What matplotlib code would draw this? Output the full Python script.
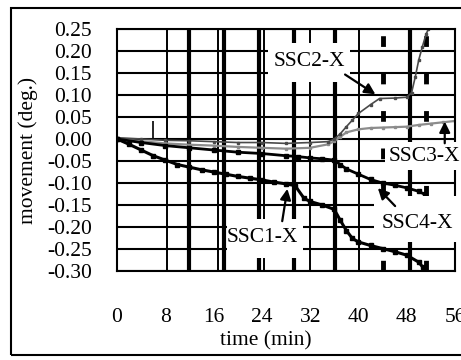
import numpy as np
import matplotlib.pyplot as plt
from matplotlib.patches import Rectangle

plt.rcParams['font.family'] = ['Liberation Serif', 'DejaVu Serif']

# curves (time in min, movement in deg.)
t_ssc1 = [0, 2, 4, 6, 8, 10, 12, 14, 16, 18, 20, 22, 24, 26, 28, 29.5, 31, 32, 34, 36, 37, 38, 39, 40, 42, 44, 46, 48, 50, 50.7, 51]
y_ssc1 = [0.0, -0.012, -0.025, -0.038, -0.048, -0.058, -0.064, -0.070, -0.075, -0.080, -0.085, -0.089, -0.093, -0.098, -0.102, -0.106, -0.135, -0.142, -0.150, -0.160, -0.185, -0.208, -0.226, -0.234, -0.242, -0.249, -0.256, -0.264, -0.280, -0.292, -0.298]

t_ssc4 = [0, 4, 8, 12, 16, 20, 24, 28, 30, 32, 34, 36, 37, 38, 40, 42, 44, 46, 48, 50, 51]
y_ssc4 = [0.0, -0.008, -0.015, -0.020, -0.025, -0.030, -0.033, -0.038, -0.040, -0.043, -0.045, -0.048, -0.058, -0.068, -0.080, -0.092, -0.100, -0.105, -0.111, -0.119, -0.126]

t_ssc2 = [0, 4, 8, 12, 16, 20, 24, 28, 32, 35, 36, 37, 38, 39, 40, 42, 43.5, 46, 48, 48.8, 49.4, 50, 50.6, 51.2, 51.6]
y_ssc2 = [0.003, 0.0, -0.003, -0.004, -0.006, -0.008, -0.008, -0.010, -0.008, -0.006, 0.0, 0.012, 0.028, 0.043, 0.058, 0.078, 0.092, 0.093, 0.095, 0.105, 0.140, 0.180, 0.210, 0.238, 0.250]

t_ssc3 = [0, 4, 8, 12, 16, 20, 24, 28, 32, 35, 36, 37, 38, 40, 42, 44, 46, 48, 50, 52, 54, 56]
y_ssc3 = [0.0, -0.005, -0.010, -0.013, -0.015, -0.018, -0.020, -0.022, -0.020, -0.012, -0.005, 0.005, 0.015, 0.022, 0.025, 0.026, 0.027, 0.028, 0.032, 0.035, 0.038, 0.041]

# vertical marker lines (min)
thin_lines = [8.3, 16.7, 24.4, 32.0, 40.1]
thick_lines = [11.9, 17.7, 23.5, 29.3, 36.1, 48.5]
dashed_lines = [44.0, 51.2]

x_ticks = [0, 8, 16, 24, 32, 40, 48, 56]
y_ticks = [0.25, 0.20, 0.15, 0.10, 0.05, 0.00, -0.05, -0.10, -0.15, -0.20, -0.25, -0.30]

fig = plt.figure(figsize=(4.61, 3.6), dpi=100)
ax = fig.add_axes([117/461, 1-271/360, 338/461, 242/360])
ax.set_xlim(0, 56)
ax.set_ylim(-0.30, 0.25)

# horizontal grid
for yv in y_ticks:
    ax.axhline(yv, color='k', lw=1.5, zorder=1)
for xv in thin_lines:
    ax.axvline(xv, color='k', lw=1.4, zorder=1)
for xv in thick_lines:
    ax.axvline(xv, color='k', lw=3.0, zorder=1)
for xv in dashed_lines:
    ax.axvline(xv, color='k', lw=3.5, linestyle=(0, (2.2, 5.5)), zorder=1)
ax.vlines(5.9, 0.0, 0.04, color='k', lw=1.2, zorder=2)

ax.plot(t_ssc3, y_ssc3, color='#8c8c8c', lw=1.6, marker='s', ms=1.8, zorder=3)
ax.plot(t_ssc2, y_ssc2, color='#4a4a4a', lw=1.2, marker='s', ms=1.5, zorder=3)
ax.plot(t_ssc4, y_ssc4, color='k', lw=2.0, marker='s', ms=2.2, zorder=3)
ax.plot(t_ssc1, y_ssc1, color='k', lw=2.2, marker='s', ms=2.2, zorder=3)

# label boxes (white, hide the lines behind)
boxes = {
    'SSC2-X': ((25.0, 0.1295), 13.6, 0.0885, (31.8, 0.175)),
    'SSC3-X': ((44.4, -0.070), 13.0, 0.063, (51.0, -0.039)),
    'SSC4-X': ((42.6, -0.234), 14.5, 0.104, (49.7, -0.193)),
    'SSC1-X': ((18.3, -0.270), 12.5, 0.088, (24.0, -0.223)),
}
for name, (xy, w, h, txy) in boxes.items():
    ax.add_patch(Rectangle(xy, w, h, facecolor='white', edgecolor='none', zorder=5, clip_on=False))
    ax.text(txy[0], txy[1], name, fontsize=15.5, ha='center', va='center', zorder=6, clip_on=False)

arrows = [((37.4, 0.150), (43.2, 0.098)),
          ((54.3, -0.016), (54.3, 0.046)),
          ((46.4, -0.157), (42.9, -0.107)),
          ((27.3, -0.193), (28.3, -0.107))]
for start, end in arrows:
    ax.annotate('', xy=end, xytext=start, zorder=7,
                arrowprops=dict(arrowstyle='-|>', mutation_scale=16, lw=1.6, color='k'))

for s in ax.spines.values():
    s.set_linewidth(1.5)
    s.set_zorder(4)

ax.set_xticks(x_ticks)
ax.set_yticks(y_ticks)
ax.set_yticklabels(['%.2f' % v for v in y_ticks])
ax.tick_params(length=0, labelsize=15.5)
ax.tick_params(axis='y', pad=18)
ax.tick_params(axis='x', pad=27)

fig.text(28/461, 1-150/360, 'movement (deg.)', rotation=90, fontsize=15.5, ha='center', va='center')
fig.text(266/461, 1-341/360, 'time (min)', fontsize=15.5, ha='center', va='center')

fig.add_artist(Rectangle((11/461, 1-355/360), 1.0, 347/360, transform=fig.transFigure,
                         facecolor='none', edgecolor='k', lw=1.5))

fig.savefig('out.png', dpi=100)
